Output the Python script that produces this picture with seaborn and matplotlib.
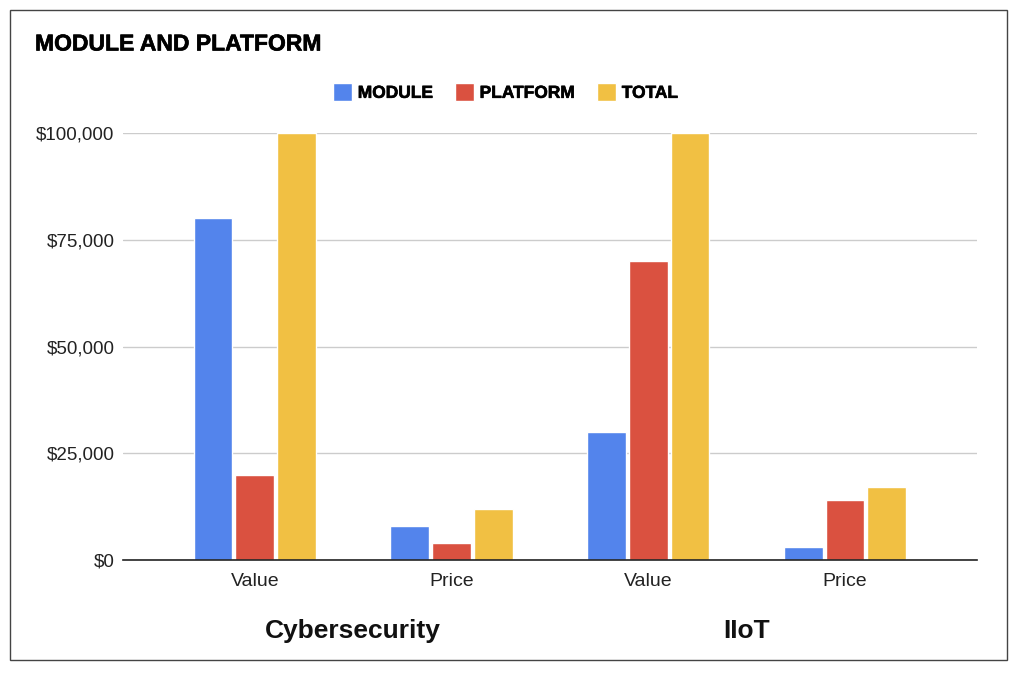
import matplotlib
matplotlib.use("Agg")
import matplotlib.pyplot as plt
import matplotlib.transforms as mtransforms
import matplotlib.patheffects as pe
import seaborn as sns
import pandas as pd
from matplotlib.ticker import FuncFormatter, MultipleLocator
from matplotlib.patches import Rectangle

groups = ["Cybersecurity", "IIoT"]
metrics = ["Value", "Price", "Value", "Price"]
module = [80000, 8000, 30000, 3000]
platform = [20000, 4000, 70000, 14000]
total = [100000, 12000, 100000, 17000]
series = ["MODULE", "PLATFORM", "TOTAL"]
colors = ["#5384EC", "#DA5140", "#F1C043"]

rows = []
for i in range(len(metrics)):
    for s, vals in zip(series, [module, platform, total]):
        rows.append({"slot": i, "series": s, "amount": vals[i]})
df = pd.DataFrame(rows)

sns.set_theme(style="white")
plt.rcParams["font.family"] = ["Liberation Sans", "DejaVu Sans"]

fig = plt.figure(figsize=(10.24, 6.74), dpi=100)
ax = fig.add_axes([0.120, 0.1691, 0.834, 0.6335])
sns.barplot(data=df, x="slot", y="amount", hue="series", hue_order=series,
            palette=colors, width=0.635, gap=0.07, ax=ax, errorbar=None,
            saturation=1, legend=True)

ax.set_xlim(-0.67, 3.67)
ax.set_ylim(0, 100000)
ax.yaxis.set_major_locator(MultipleLocator(25000))
ax.yaxis.set_major_formatter(FuncFormatter(lambda v, _: f"${v:,.0f}"))
ax.set_xticks(range(len(metrics)))
ax.set_xticklabels(metrics)
ax.set_xlabel("")
ax.set_ylabel("")
ax.yaxis.grid(True, color="#CCCCCC", lw=1)
ax.set_axisbelow(True)
for s in ["left", "right", "top"]:
    ax.spines[s].set_visible(False)
ax.spines["bottom"].set_color("#222222")
ax.spines["bottom"].set_linewidth(1.2)
ax.tick_params(axis="y", length=0, labelsize=13.5, pad=6, labelcolor="#222222")
ax.tick_params(axis="x", length=0, labelsize=14, pad=9.5, labelcolor="#222222")

trans = mtransforms.blended_transform_factory(ax.transData, fig.transFigure)
for gi, g in enumerate(groups):
    ax.text(gi * 2 + 0.5, 1 - 631 / 674, g, transform=trans, ha="center",
            va="center", fontsize=19, fontweight="bold", color="#111111")

heavy = [pe.withStroke(linewidth=0.45, foreground="#000000")]

handles, labels = ax.get_legend_handles_labels()
if ax.get_legend() is not None:
    ax.get_legend().remove()
leg = fig.legend(handles, labels, loc="center", bbox_to_anchor=(0.494, 0.8635),
                 ncol=3, frameon=False, prop={"weight": "bold", "size": 12.5},
                 handlelength=1.05, handleheight=1.3, handletextpad=0.35,
                 columnspacing=1.3)
for t in leg.get_texts():
    t.set_color("#000000")
    t.set_path_effects(heavy)

fig.text(35 / 1024, 1 - 44 / 674, "MODULE AND PLATFORM", fontsize=16.5,
         fontweight="bold", va="center", color="#000000", path_effects=heavy)

fig.add_artist(Rectangle((0.0098, 0.0208), 0.9736, 0.9642,
                         transform=fig.transFigure, fill=False,
                         ec="#444444", lw=1))

fig.savefig("out.png", dpi=100)
